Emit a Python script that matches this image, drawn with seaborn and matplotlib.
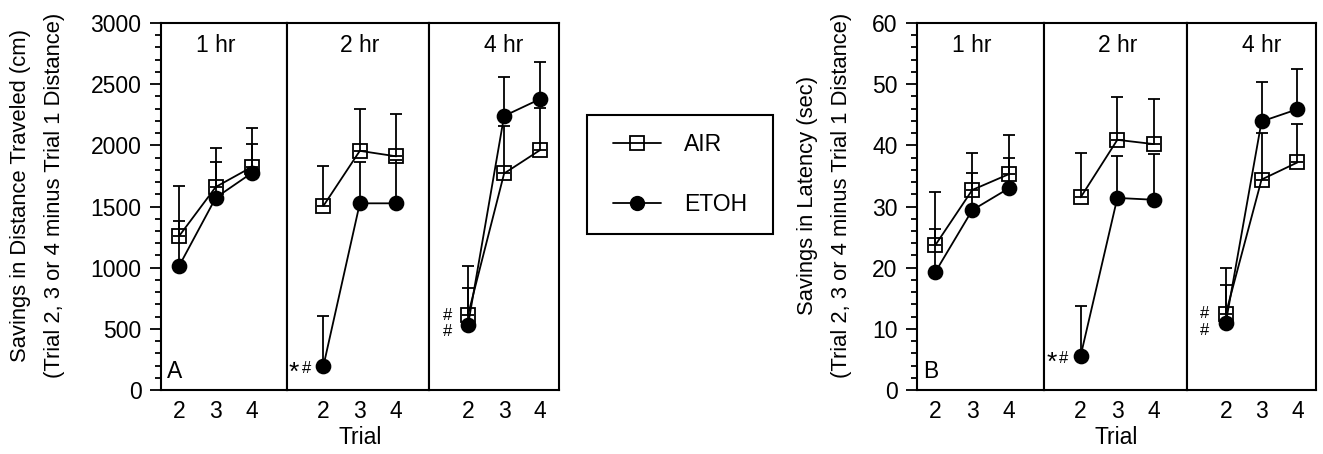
import numpy as np
import pandas as pd
import matplotlib
matplotlib.use("Agg")
import matplotlib.pyplot as plt
import seaborn as sns
from matplotlib.lines import Line2D
from matplotlib.patches import Rectangle
from matplotlib.ticker import MultipleLocator

# --- values ---
trials = [2, 3, 4]
intervals = ["1 hr", "2 hr", "4 hr"]

# Panel A: savings in distance traveled (cm), rows = 1 hr / 2 hr / 4 hr
dist_air_mean = [[1260, 1660, 1825], [1505, 1955, 1910], [613, 1770, 1962]]
dist_air_err = [[125, 207, 186], [329, 342, 343], [223, 391, 341]]
dist_etoh_mean = [[1016, 1572, 1777], [196, 1526, 1526], [531, 2240, 2379]]
dist_etoh_err = [[654, 404, 368], [409, 334, 354], [483, 321, 299]]

# Panel B: savings in latency (sec)
lat_air_mean = [[23.7, 32.7, 35.3], [31.5, 40.9, 40.2], [12.4, 34.4, 37.2]]
lat_air_err = [[2.7, 2.7, 2.6], [7.3, 7.0, 7.4], [4.8, 7.6, 6.3]]
lat_etoh_mean = [[19.3, 29.4, 33.0], [5.6, 31.4, 31.1], [10.9, 43.9, 45.9]]
lat_etoh_err = [[13.0, 9.4, 8.7], [8.1, 6.9, 7.5], [9.0, 6.5, 6.5]]


def to_long(air_m, air_e, etoh_m, etoh_e):
    rows = []
    for group, means, errs in [("AIR", air_m, air_e), ("ETOH", etoh_m, etoh_e)]:
        for i, interval in enumerate(intervals):
            for j, t in enumerate(trials):
                rows.append({"group": group, "interval": interval, "trial": t,
                             "mean": means[i][j], "err": errs[i][j]})
    return pd.DataFrame(rows)


dist_df = to_long(dist_air_mean, dist_air_err, dist_etoh_mean, dist_etoh_err)
lat_df = to_long(lat_air_mean, lat_air_err, lat_etoh_mean, lat_etoh_err)

sns.set_style("ticks")
plt.rcParams["font.family"] = ["Liberation Sans", "DejaVu Sans"]
for k in ["text.color", "axes.labelcolor", "xtick.color", "ytick.color", "axes.edgecolor"]:
    plt.rcParams[k] = "black"
FS = 16.5
LW = 1.3

W, H = 1323, 454
fig = plt.figure(figsize=(W / 100, H / 100), dpi=100)

# panel x-edges in pixels (left edge, dividers, right edge)
panel_edges = {"A": [161, 287, 429, 559], "B": [917, 1044, 1187, 1316]}
xlims = [(1.5, 4.95), (1.0, 4.9), (0.92, 4.52)]
top_px, bot_px = 23, 390

style = {"AIR": dict(marker="s", markerfacecolor="none"),
         "ETOH": dict(marker="o", markerfacecolor="black")}


def draw_panel(df, key, ymax, major, minor, ylabel1, ylabel2, letter):
    edges = panel_edges[key]
    axes = []
    for k, interval in enumerate(intervals):
        x0, x1 = edges[k], edges[k + 1]
        ax = fig.add_axes([x0 / W, 1 - bot_px / H, (x1 - x0) / W, (bot_px - top_px) / H])
        sub = df[df["interval"] == interval]
        for grp in ["AIR", "ETOH"]:
            d = sub[sub["group"] == grp]
            ax.errorbar(d["trial"], d["mean"], yerr=[np.zeros(len(d)), d["err"]],
                        fmt="none", ecolor="black", elinewidth=LW, capsize=4,
                        capthick=LW, zorder=2)
            sns.lineplot(data=d, x="trial", y="mean", color="black", linewidth=LW,
                         markersize=10, markeredgecolor="black", markeredgewidth=LW,
                         legend=False, ax=ax, zorder=3, **style[grp])
        ax.set_xlim(*xlims[k])
        ax.set_ylim(0, ymax)
        ax.set_xticks(trials)
        ax.set_xticklabels([str(t) for t in trials], fontsize=FS)
        ax.tick_params(axis="x", length=0, pad=7)
        ax.set_xlabel("")
        ax.set_ylabel("")
        for s in ax.spines.values():
            s.set_visible(True)
            s.set_linewidth(LW + 0.2)
            s.set_color("black")
        if k == 0:
            ax.yaxis.set_major_locator(MultipleLocator(major))
            ax.yaxis.set_minor_locator(MultipleLocator(minor))
            ax.tick_params(axis="y", which="major", length=8, width=LW, labelsize=FS, pad=6)
            ax.tick_params(axis="y", which="minor", length=4.5, width=LW)
            ax.text(0.045, 0.02, letter, transform=ax.transAxes, fontsize=FS,
                    ha="left", va="bottom")
        else:
            ax.tick_params(axis="y", which="both", left=False, labelleft=False)
        ax.text(3, 0.94, interval, transform=ax.get_xaxis_transform(),
                fontsize=FS, ha="center", va="center")
        axes.append(ax)

    # significance marks
    etoh = df[df["group"] == "ETOH"]
    p2 = etoh[(etoh["interval"] == "2 hr") & (etoh["trial"] == 2)]["mean"].iloc[0]
    axes[1].annotate("*", xy=(2, p2), xytext=(-21, -10), textcoords="offset points",
                     fontsize=19, ha="center", va="baseline", annotation_clip=False)
    axes[1].annotate("#", xy=(2, p2), xytext=(-12, -2), textcoords="offset points",
                     fontsize=12, ha="center", va="center", annotation_clip=False)
    p4 = etoh[(etoh["interval"] == "4 hr") & (etoh["trial"] == 2)]["mean"].iloc[0]
    for dy in (7, -5):
        axes[2].annotate("#", xy=(2, p4), xytext=(-15, dy), textcoords="offset points",
                         fontsize=12, ha="center", va="center", annotation_clip=False)

    cx = (edges[0] + edges[-1]) / 2
    fig.text(cx / W, 1 - 438 / H, "Trial", fontsize=FS, ha="center", va="center")
    yc = 1 - 195 / H
    lx = edges[0] - 140 if key == "A" else edges[0] - 110
    fig.text(lx / W, yc, ylabel1, rotation=90, fontsize=15.8, ha="center", va="center")
    fig.text((lx + 34) / W, yc, ylabel2, rotation=90, fontsize=15.8, ha="center", va="center")


draw_panel(dist_df, "A", 3000, 500, 100,
           "Savings in Distance Traveled (cm)",
           "(Trial 2, 3 or 4 minus Trial 1 Distance)", "A")
draw_panel(lat_df, "B", 60, 10, 2,
           "Savings in Latency (sec)",
           "(Trial 2, 3 or 4 minus Trial 1 Distance)", "B")

handles = [Line2D([], [], color="black", lw=LW, marker="s", markerfacecolor="none",
                  markeredgecolor="black", markeredgewidth=LW, markersize=10),
           Line2D([], [], color="black", lw=LW, marker="o", markerfacecolor="black",
                  markeredgecolor="black", markersize=10)]
fig.legend(handles, ["AIR", "ETOH"], loc="center",
           bbox_to_anchor=(680 / W, 1 - 174.5 / H), fontsize=FS,
           frameon=False, handlelength=2.1, handletextpad=1.0, labelspacing=1.6,
           borderpad=1.1, borderaxespad=0)
# legend box drawn separately so its padding matches the original
fig.patches.append(Rectangle((587 / W, 1 - 234 / H), 186 / W, 119 / H,
                             transform=fig.transFigure, fill=False,
                             edgecolor="black", linewidth=LW + 0.2))

fig.savefig("out.png", dpi=100)
